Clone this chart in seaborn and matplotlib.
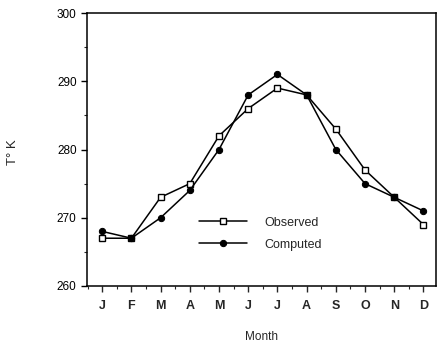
import matplotlib
matplotlib.use("Agg")
import matplotlib.pyplot as plt
from matplotlib.ticker import MultipleLocator
import seaborn as sns
import pandas as pd

months = ["J", "F", "M", "A", "M", "J", "J", "A", "S", "O", "N", "D"]
observed = [267, 267, 273, 275, 282, 286, 289, 288, 283, 277, 273, 269]
computed = [268, 267, 270, 274, 280, 288, 291, 288, 280, 275, 273, 271]

sns.set_theme(style="ticks")
plt.rcParams["font.family"] = ["Liberation Sans", "DejaVu Sans"]

idx = list(range(len(months)))
df = pd.DataFrame({"m": idx, "Observed": observed, "Computed": computed})

fig = plt.figure(figsize=(4.38, 3.42), dpi=100)
ax = fig.add_axes([87 / 438, 1 - 286 / 342, (436 - 87) / 438, (286 - 13) / 342])

sns.lineplot(data=df, x="m", y="Observed", ax=ax, color="black", lw=1.1,
             marker="s", markersize=5, markerfacecolor="white",
             markeredgecolor="black", markeredgewidth=1.0, label="Observed")
sns.lineplot(data=df, x="m", y="Computed", ax=ax, color="black", lw=1.1,
             marker="o", markersize=4.5, markerfacecolor="black",
             markeredgecolor="black", label="Computed")

ax.set_xlim(-0.52, 11.43)
ax.set_ylim(260, 300)
ax.set_xticks(idx)
ax.set_xticklabels(months, fontweight="bold", fontsize=9)
ax.xaxis.set_minor_locator(MultipleLocator(0.5))
ax.set_yticks([260, 270, 280, 290, 300])
ax.yaxis.set_minor_locator(MultipleLocator(5))
ax.tick_params(axis="y", labelsize=8.5, colors="black", length=4, width=1)
ax.tick_params(axis="x", length=4, width=1, pad=6)
ax.tick_params(which="minor", length=2.5, width=0.8)

for s in ax.spines.values():
    s.set_color("black")
    s.set_linewidth(1.1)

ax.set_xlabel("Month", fontsize=8.5, labelpad=14)
ax.set_ylabel("T° K", fontsize=9.5)
ax.yaxis.set_label_coords(-0.195, 0.49)

leg = ax.legend(loc="upper left", bbox_to_anchor=(0.29, 0.295), frameon=False,
                fontsize=9, handlelength=3.8, handletextpad=1.4,
                labelspacing=0.8)

fig.savefig("out.png", dpi=100)
